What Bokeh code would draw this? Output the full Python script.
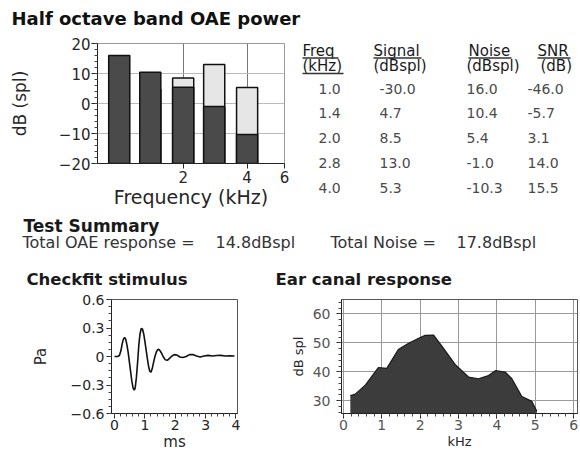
import numpy as np
from bokeh.plotting import figure
from bokeh.layouts import column, row
from bokeh.models import Range1d, FixedTicker, SingleIntervalTicker, PrintfTickFormatter
from bokeh.core.properties import value
from bokeh.embed import file_html
from bokeh.resources import INLINE

# ---------------- data ----------------
band_freq_khz = [1.0, 1.4, 2.0, 2.8, 4.0]
band_signal_db = [-30.0, 4.7, 8.5, 13.0, 5.3]
band_noise_db = [16.0, 10.4, 5.4, -1.0, -10.3]
band_snr_db = [-46.0, -5.7, 3.1, 14.0, 15.5]

total_oae_db = 14.8
total_noise_db = 17.8

stim_time_ms = [0.00, 0.10, 0.16, 0.21, 0.25, 0.29, 0.33, 0.37, 0.41, 0.45,
                0.49, 0.53, 0.57, 0.61, 0.65, 0.68, 0.72, 0.76, 0.80, 0.84,
                0.88, 0.92, 0.96, 1.00, 1.04, 1.08, 1.12, 1.16, 1.20, 1.24,
                1.28, 1.33, 1.38, 1.43, 1.48, 1.54, 1.60, 1.67, 1.74, 1.81,
                1.89, 1.97, 2.06, 2.15, 2.25, 2.36, 2.47, 2.58, 2.70, 2.82,
                2.95, 3.08, 3.22, 3.36, 3.50, 3.65, 3.80, 3.95]
stim_pressure_pa = [0.00, 0.00, 0.01, 0.06, 0.13, 0.18, 0.20, 0.18, 0.12, 0.04,
                    -0.06, -0.16, -0.26, -0.33, -0.355, -0.33, -0.22, -0.06, 0.12, 0.24,
                    0.295, 0.29, 0.24, 0.16, 0.07, -0.02, -0.10, -0.155, -0.165, -0.13,
                    -0.07, 0.00, 0.05, 0.075, 0.07, 0.04, 0.00, -0.035, -0.04, -0.02,
                    0.005, 0.02, 0.015, -0.005, -0.01, 0.00, 0.02, 0.02, 0.005, -0.005,
                    0.005, 0.012, 0.005, 0.01, 0.012, 0.005, 0.008, 0.005]

ear_freq_khz = [0.18, 0.30, 0.57, 0.91, 1.13, 1.43, 1.70, 1.96, 2.13, 2.35, 2.57,
                2.91, 3.26, 3.52, 3.78, 3.96, 4.22, 4.39, 4.65, 4.91, 5.04]
ear_level_db = [31.8, 32.2, 35.4, 41.5, 41.2, 47.7, 49.9, 51.6, 52.6, 52.7, 48.8,
                42.6, 38.2, 37.6, 38.7, 40.4, 39.9, 37.6, 31.5, 29.8, 26.4]

table_headers_1 = ["Freq", "Signal", "Noise", "SNR"]
table_headers_2 = ["(kHz)", "(dBspl)", "(dBspl)", "(dB)"]

FONT = "DejaVu Sans"
TXT = "#262626"


def text_fig(w, h, x0, y0):
    f = figure(width=w, height=h, x_range=Range1d(x0, x0 + w), y_range=Range1d(y0 + h, y0),
               output_backend="svg", toolbar_location=None, title=None,
               x_axis_location=None, y_axis_location=None, min_border=0,
               outline_line_color=None, background_fill_color="white",
               border_fill_color="white")
    f.grid.visible = False
    return f


def put(f, x, y, s, size="14px", bold=False, color=TXT, align="left"):
    f.text(x=[x], y=[y], text=[s], text_font=value(FONT), text_font_size=size,
           text_font_style="bold" if bold else "normal", text_color=color,
           text_baseline="middle", text_align=align)


def style_axes(p, tick_size, label_size, tick_color=TXT):
    for ax in p.axis:
        ax.major_label_text_font = FONT
        ax.major_label_text_font_size = tick_size
        ax.major_label_text_color = tick_color
        ax.axis_label_text_font = FONT
        ax.axis_label_text_font_size = label_size
        ax.axis_label_text_font_style = "normal"
        ax.axis_label_text_color = TXT
        ax.axis_line_color = "#222"
        ax.major_tick_line_color = "#222"
        ax.minor_tick_line_color = "#444"
        ax.major_tick_in = 0
        ax.minor_tick_in = 0


# ---------------- header ----------------
head = text_fig(580, 32, 0, 0)
put(head, 11, 18, "Half octave band OAE power", size="18px", bold=True, color="#111")

# ---------------- bar chart ----------------
p1 = figure(width=290, height=180, x_axis_type="log", x_range=Range1d(0.79, 6.0),
            y_range=Range1d(-20, 20), output_backend="svg", toolbar_location=None,
            title=None, min_border_left=97, min_border_right=6, min_border_top=11,
            min_border_bottom=49, outline_line_color="#999")
ymin = p1.y_range.start
half_w = 0.165  # bar half width in octaves
lefts = [f * 2 ** (-half_w) for f in band_freq_khz]
rights = [f * 2 ** half_w for f in band_freq_khz]
p1.quad(left=lefts, right=rights, bottom=ymin, top=np.maximum(band_signal_db, ymin),
        fill_color="#e6e6e6", line_color="#111", line_width=1.5)
p1.quad(left=lefts, right=rights, bottom=ymin, top=band_noise_db,
        fill_color="#4a4a4a", line_color="#111", line_width=1.5)
yt = SingleIntervalTicker(interval=10, num_minor_ticks=5)
p1.yaxis.ticker = yt
p1.ygrid.ticker = yt
p1.xaxis.ticker = FixedTicker(ticks=[2, 4, 6], minor_ticks=[])
p1.xgrid.ticker = FixedTicker(ticks=[2, 4])
p1.xaxis.formatter = PrintfTickFormatter(format="%d")
p1.xgrid.grid_line_color = "#777"
p1.ygrid.grid_line_color = "#bbb"
p1.xaxis.axis_label = "Frequency (kHz)"
p1.yaxis.axis_label = "dB (spl)"
style_axes(p1, "15px", "19px")
p1.yaxis.axis_label_text_font_size = "17px"
p1.yaxis.major_tick_out = 6
p1.yaxis.minor_tick_out = 3
p1.yaxis.major_label_standoff = 1
p1.yaxis.axis_label_standoff = 26
p1.xaxis.major_tick_out = 5
p1.xaxis.major_label_standoff = 2
p1.xaxis.axis_label_standoff = 0

# ---------------- table ----------------
tab = text_fig(290, 180, 290, 32)
col_h = [302, 373, 468, 537]
col_h2 = [302, 373, 466, 540]
h_w1 = [36, 48, 43, 33]
for i in range(4):
    put(tab, col_h[i], 50, table_headers_1[i], size="15px", color="#1a1a1a")
    put(tab, col_h2[i], 65, table_headers_2[i], size="15px", color="#1a1a1a")
    tab.segment(x0=[col_h[i]], x1=[col_h[i] + h_w1[i]], y0=[57.5], y1=[57.5],
                line_color="#333", line_width=1.3)
tab.segment(x0=[302, 373, 466], x1=[343, 428, 573], y0=[73], y1=[73],
            line_color="#333", line_width=1.3)
col_d = [318, 379, 466, 527]
row_y0 = 88
row_dy = 24.75
for r in range(len(band_freq_khz)):
    y = row_y0 + r * row_dy
    vals = [band_freq_khz[r], band_signal_db[r], band_noise_db[r], band_snr_db[r]]
    for c in range(4):
        put(tab, col_d[c], y, f"{vals[c]:.1f}", size="14px", color="#4a4a4a")

# ---------------- summary strip ----------------
summ = text_fig(580, 78, 0, 212)
put(summ, 23, 225, "Test Summary", size="17px", bold=True, color="#1a1a1a")
put(summ, 22, 242, "Total OAE response =", size="16px", color="#333")
put(summ, 215, 242, f"{total_oae_db:.1f}dBspl", size="16px", color="#333")
put(summ, 330, 242, "Total Noise =", size="16px", color="#333")
put(summ, 456, 242, f"{total_noise_db:.1f}dBspl", size="16px", color="#333")
put(summ, 26, 279, "Checkfit stimulus", size="16.5px", bold=True, color="#1a1a1a")
put(summ, 275, 279, "Ear canal response", size="16.5px", bold=True, color="#1a1a1a")

# ---------------- checkfit stimulus ----------------
p3 = figure(width=265, height=163, x_range=Range1d(-0.1, 4.05), y_range=Range1d(-0.6, 0.6),
            output_backend="svg", toolbar_location=None, title=None,
            min_border_left=111, min_border_right=28, min_border_top=9, min_border_bottom=38,
            outline_line_color="#555")
p3.line(stim_time_ms, stim_pressure_pa, line_color="#111", line_width=1.6)
p3.grid.visible = False
p3.xaxis.ticker = SingleIntervalTicker(interval=1, num_minor_ticks=5)
p3.yaxis.ticker = FixedTicker(ticks=[-0.6, -0.3, 0, 0.3, 0.6],
                              minor_ticks=list(np.round(np.arange(-0.6, 0.61, 0.075), 3)))
p3.yaxis.major_label_overrides = {0: "0"}
p3.xaxis.axis_label = "ms"
p3.yaxis.axis_label = "Pa"
style_axes(p3, "14px", "15px")
p3.yaxis.major_tick_out = 5
p3.yaxis.minor_tick_out = 3
p3.yaxis.major_label_standoff = 2
p3.yaxis.axis_label_standoff = 18
p3.xaxis.major_tick_out = 5
p3.xaxis.minor_tick_out = 3
p3.xaxis.major_label_standoff = 1
p3.xaxis.axis_label_standoff = 0

# ---------------- ear canal response ----------------
p4 = figure(width=315, height=163, x_range=Range1d(-0.05, 6.1), y_range=Range1d(25.6, 65.0),
            output_backend="svg", toolbar_location=None, title=None,
            min_border_left=76, min_border_right=3, min_border_top=9, min_border_bottom=38,
            outline_line_color="#555")
p4.varea(x=ear_freq_khz, y1=p4.y_range.start, y2=ear_level_db, fill_color="#3c3c3c")
p4.line(ear_freq_khz, ear_level_db, line_color="#1a1a1a", line_width=1.2)
xt4 = SingleIntervalTicker(interval=1, num_minor_ticks=5)
yt4 = SingleIntervalTicker(interval=10, num_minor_ticks=5)
p4.xaxis.ticker = xt4
p4.xgrid.ticker = xt4
p4.yaxis.ticker = yt4
p4.ygrid.ticker = yt4
p4.grid.grid_line_color = "#9a9a9a"
p4.xaxis.axis_label = "kHz"
p4.yaxis.axis_label = "dB spl"
style_axes(p4, "14px", "13px", tick_color="#555")
p4.yaxis.major_tick_out = 5
p4.yaxis.minor_tick_out = 3
p4.yaxis.major_label_standoff = 6
p4.yaxis.axis_label_standoff = 4
p4.xaxis.major_tick_out = 5
p4.xaxis.minor_tick_out = 3
p4.xaxis.major_label_standoff = 1
p4.xaxis.axis_label_standoff = 1

layout = column(head, row(p1, column(tab)), summ, row(p3, p4))
open("out.html", "w").write(file_html(layout, INLINE))
